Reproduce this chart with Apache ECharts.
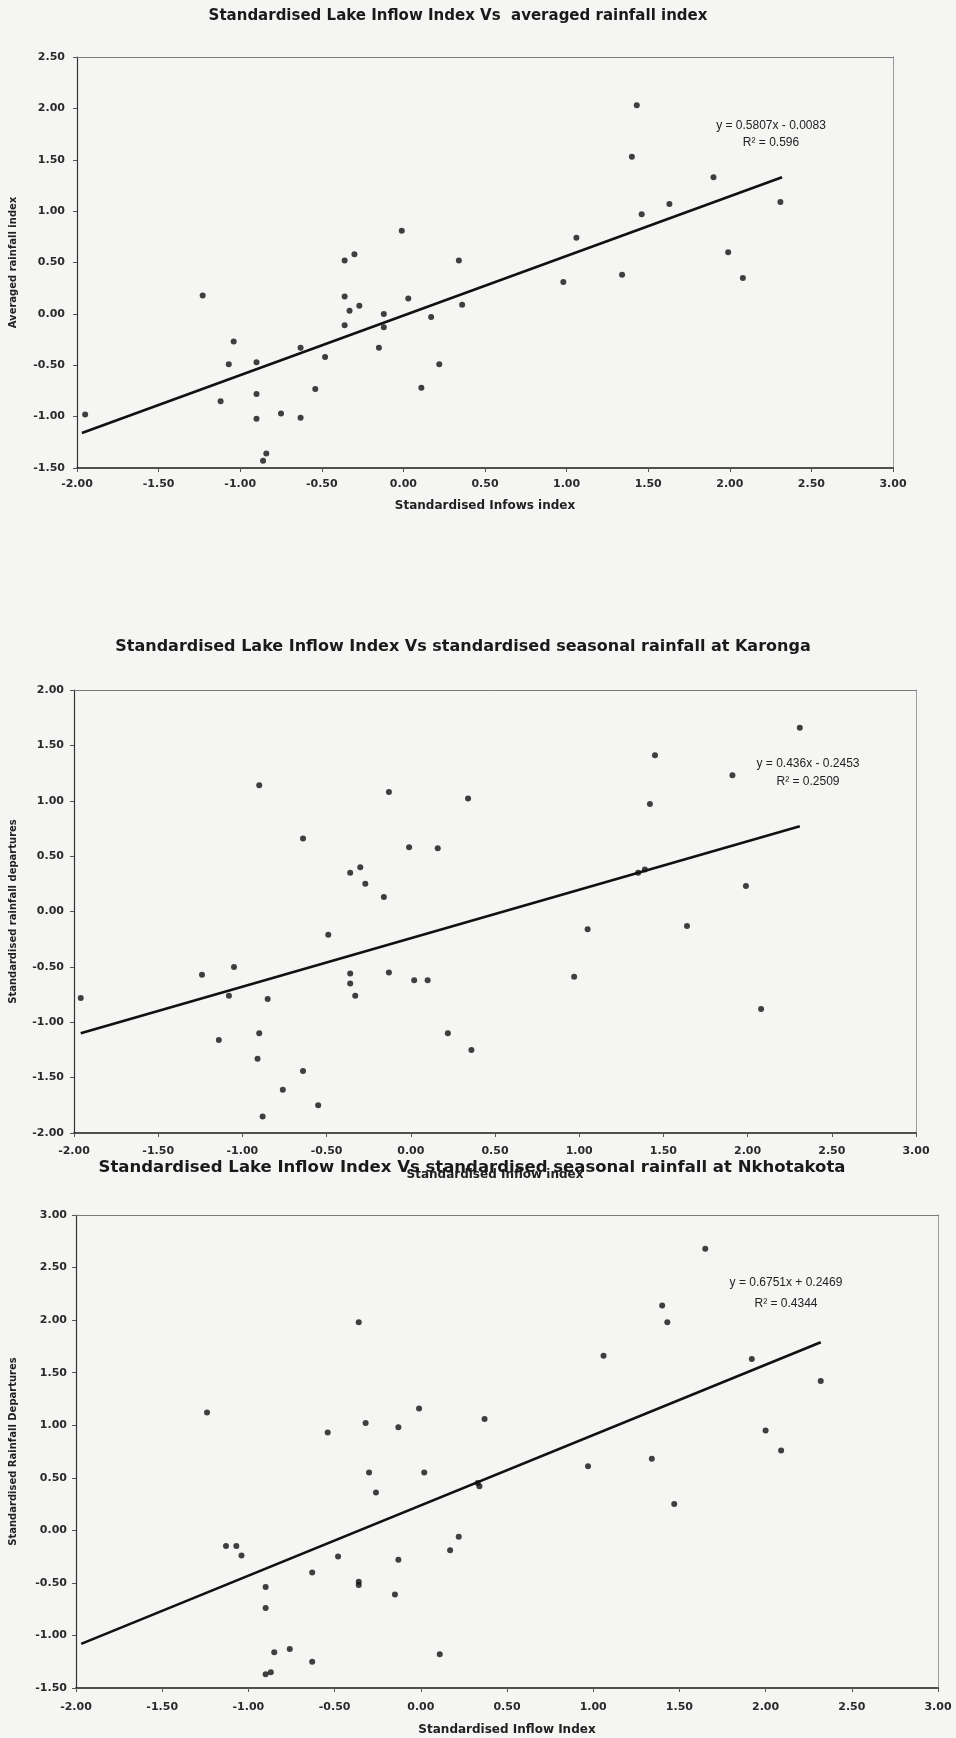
<!DOCTYPE html>
<html>
<head>
<meta charset="utf-8">
<script src="https://cdn.jsdelivr.net/npm/echarts@6/dist/echarts.min.js"></script>
<style>
  html, body { margin: 0; padding: 0; background: #f5f5f3; }
  #chart { width: 956px; height: 1738px; }
</style>
</head>
<body>
<div id="chart"></div>
<script>
// ---------- Data ----------
const titles = [
  'Standardised Lake Inflow Index Vs  averaged rainfall index',
  'Standardised Lake Inflow Index Vs standardised seasonal rainfall at Karonga',
  'Standardised Lake Inflow Index Vs standardised seasonal rainfall at Nkhotakota'
];
const xAxisNames = ['Standardised Infows index', 'Standardised Inflow index', 'Standardised Inflow Index'];
const yAxisNames = ['Averaged rainfall index', 'Standardised rainfall departures', 'Standardised Rainfall Departures'];
const equations = ['y = 0.5807x - 0.0083', 'y = 0.436x - 0.2453', 'y = 0.6751x + 0.2469'];
const rSquared = ['R\u00b2 = 0.596', 'R\u00b2 = 0.2509', 'R\u00b2 = 0.4344'];

// Chart 1: averaged rainfall index
const inflow1 = [-1.95,-1.23,-1.12,-1.07,-1.04,-0.90,-0.90,-0.90,-0.86,-0.84,-0.75,-0.63,-0.63,-0.54,-0.48,-0.36,-0.36,-0.36,-0.33,-0.30,-0.27,-0.15,-0.12,-0.12,-0.01,0.03,0.11,0.17,0.22,0.34,0.36,0.98,1.06,1.34,1.40,1.43,1.46,1.63,1.90,1.99,2.08,2.31];
const rain1   = [-0.98,0.18,-0.85,-0.49,-0.27,-0.47,-0.78,-1.02,-1.43,-1.36,-0.97,-0.33,-1.01,-0.73,-0.42,0.52,0.17,-0.11,0.03,0.58,0.08,-0.33,0.00,-0.13,0.81,0.15,-0.72,-0.03,-0.49,0.52,0.09,0.31,0.74,0.38,1.53,2.03,0.97,1.07,1.33,0.60,0.35,1.09];
const trendX1 = [-1.97, 2.32];
const trendY1 = [-1.16, 1.33];

// Chart 2: Karonga
const inflow2 = [-1.96,-1.24,-1.08,-1.05,-0.90,-0.85,-0.90,-1.14,-0.91,-0.64,-0.76,-0.55,-0.88,-0.64,-0.49,-0.36,-0.30,-0.27,-0.36,-0.36,-0.33,-0.16,-0.13,-0.13,-0.01,0.02,0.10,0.16,0.22,0.34,0.36,0.97,1.05,1.35,1.39,1.42,1.45,1.64,1.91,1.99,2.08,2.31];
const rain2   = [-0.78,-0.57,-0.76,-0.50,1.14,-0.79,-1.10,-1.16,-1.33,-1.44,-1.61,-1.75,-1.85,0.66,-0.21,0.35,0.40,0.25,-0.56,-0.65,-0.76,0.13,1.08,-0.55,0.58,-0.62,-0.62,0.57,-1.10,1.02,-1.25,-0.59,-0.16,0.35,0.38,0.97,1.41,-0.13,1.23,0.23,-0.88,1.66];
const trendX2 = [-1.96, 2.31];
const trendY2 = [-1.10, 0.77];

// Chart 3: Nkhotakota
const inflow3 = [-1.24,-1.13,-1.07,-1.04,-0.90,-0.90,-0.90,-0.87,-0.85,-0.76,-0.63,-0.63,-0.54,-0.48,-0.36,-0.36,-0.36,-0.32,-0.30,-0.26,-0.15,-0.13,-0.13,-0.01,0.02,0.11,0.17,0.22,0.33,0.34,0.37,0.97,1.06,1.34,1.40,1.43,1.47,1.65,1.92,2.00,2.09,2.32];
const rain3   = [1.12,-0.15,-0.15,-0.24,-0.54,-0.74,-1.37,-1.35,-1.16,-1.13,-0.40,-1.25,0.93,-0.25,1.98,-0.49,-0.52,1.02,0.55,0.36,-0.61,0.98,-0.28,1.16,0.55,-1.18,-0.19,-0.06,0.45,0.42,1.06,0.61,1.66,0.68,2.14,1.98,0.25,2.68,1.63,0.95,0.76,1.42];
const trendX3 = [-1.97, 2.32];
const trendY3 = [-1.08, 1.79];

const xMin = [-2, -2, -2], xMax = [3, 3, 3];
const yMin = [-1.5, -2, -1.5], yMax = [2.5, 2, 3];
const tickStep = 0.5;

// ---------- Layout / style ----------
const grids = [
  { left: 77, top: 57,   width: 816, height: 411 },
  { left: 72, top: 690,  width: 844, height: 443 },
  { left: 71, top: 1215, width: 867, height: 473 }
];
const titlePos = [[458, 16], [463, 647], [472, 1168]];
const titleSize = [15, 16, 16.5];
const eqPos = [[771, 126, 143], [808, 764, 782], [786, 1283, 1304]];
const xNameGap = [32, 36, 36];
const yNameGap = [59, 56, 58];
const xLabelMargin = [11, 13, 14];
const yLabelMargin = [12, 10, 9];

const FONT = '"DejaVu Sans", "Liberation Sans", Arial, sans-serif';
const NARROW = '"Liberation Sans Narrow", "Liberation Sans", Arial, sans-serif';

const xs = [inflow1, inflow2, inflow3];
const ys = [rain1, rain2, rain3];
const txs = [trendX1, trendX2, trendX3];
const tys = [trendY1, trendY2, trendY3];

const option = {
  backgroundColor: '#f5f5f3',
  animation: false,
  grid: grids.map(g => Object.assign({ show: false, containLabel: false }, g)),
  xAxis: [],
  yAxis: [],
  series: [],
  graphic: []
};

for (let i = 0; i < 3; i++) {
  // main bottom axis
  option.xAxis.push({
    type: 'value', gridIndex: i, min: xMin[i], max: xMax[i], interval: tickStep, position: 'bottom',
    splitLine: { show: false },
    axisLine: { show: true, onZero: false, lineStyle: { color: '#1a1a1a', width: 1.6 } },
    axisTick: { show: true, inside: false, length: 4, lineStyle: { color: '#555' } },
    axisLabel: { formatter: v => v.toFixed(2), fontFamily: FONT, fontWeight: 'bold', fontSize: 11, color: '#2a2a2a', margin: xLabelMargin[i] },
    name: xAxisNames[i], nameLocation: 'middle', nameGap: xNameGap[i],
    nameTextStyle: { fontFamily: FONT, fontWeight: 'bold', fontSize: 12, color: '#222' }
  });
  // plot-area top border
  option.xAxis.push({
    type: 'value', gridIndex: i, min: xMin[i], max: xMax[i], interval: tickStep, position: 'top',
    splitLine: { show: false }, axisTick: { show: false }, axisLabel: { show: false },
    axisLine: { show: true, onZero: false, lineStyle: { color: '#7a7a7a', width: 1 } }
  });
  // main left axis
  option.yAxis.push({
    type: 'value', gridIndex: i, min: yMin[i], max: yMax[i], interval: tickStep, position: 'left',
    splitLine: { show: false },
    axisLine: { show: true, onZero: false, lineStyle: { color: '#333', width: 1.2 } },
    axisTick: { show: true, inside: false, length: 4, lineStyle: { color: '#555' } },
    axisLabel: { formatter: v => v.toFixed(2), fontFamily: FONT, fontWeight: 'bold', fontSize: 11, color: '#2a2a2a', margin: yLabelMargin[i] },
    name: yAxisNames[i], nameLocation: 'middle', nameGap: yNameGap[i], nameRotate: 90,
    nameTextStyle: { fontFamily: FONT, fontWeight: 'bold', fontSize: 10, color: '#222' }
  });
  // plot-area right border (dotted)
  option.yAxis.push({
    type: 'value', gridIndex: i, min: yMin[i], max: yMax[i], interval: tickStep, position: 'right',
    splitLine: { show: false }, axisTick: { show: false }, axisLabel: { show: false },
    axisLine: { show: true, onZero: false, lineStyle: { color: '#8a8a8a', width: 1, type: 'dotted' } }
  });

  option.series.push({
    type: 'scatter', xAxisIndex: 2 * i, yAxisIndex: 2 * i,
    data: xs[i].map((x, k) => [x, ys[i][k]]),
    symbol: 'circle', symbolSize: 6,
    itemStyle: { color: '#111' }, z: 3
  });
  option.series.push({
    type: 'line', xAxisIndex: 2 * i, yAxisIndex: 2 * i,
    data: txs[i].map((x, k) => [x, tys[i][k]]),
    symbol: 'none', lineStyle: { color: '#111', width: 2.6 }, z: 2
  });
  option.graphic.push({
    type: 'text', x: titlePos[i][0], y: titlePos[i][1], z: 100,
    style: { text: titles[i], fontFamily: FONT, fontWeight: 'bold', fontSize: titleSize[i], fill: '#1a1a1a', align: 'center', verticalAlign: 'middle' }
  });
  option.graphic.push({
    type: 'text', x: eqPos[i][0], y: eqPos[i][1], z: 100,
    style: { text: equations[i], fontFamily: NARROW, fontSize: 12, fill: '#222', align: 'center', verticalAlign: 'middle' }
  });
  option.graphic.push({
    type: 'text', x: eqPos[i][0], y: eqPos[i][2], z: 100,
    style: { text: rSquared[i], fontFamily: NARROW, fontSize: 12, fill: '#222', align: 'center', verticalAlign: 'middle' }
  });
}

const chart = echarts.init(document.getElementById('chart'), null, { renderer: 'canvas' });
chart.setOption(option);
</script>
</body>
</html>
